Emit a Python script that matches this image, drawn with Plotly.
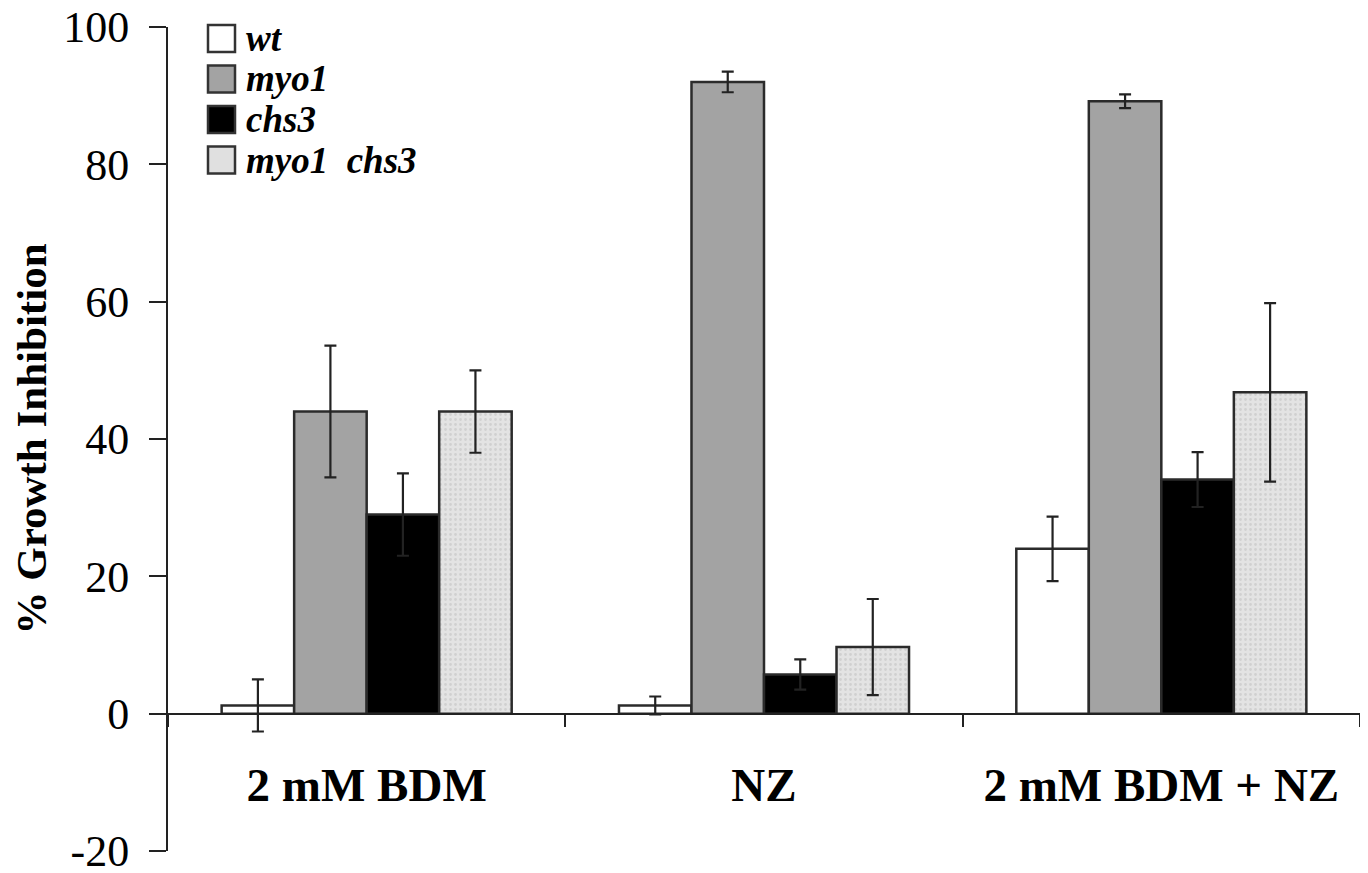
import plotly.graph_objects as go

categories = ["2 mM BDM", "NZ", "2 mM BDM + NZ"]
series_names = ["wt", "myo1", "chs3", "myo1  chs3"]
wt_vals = [1.2, 1.2, 24.0]
wt_err = [3.8, 1.3, 4.7]
myo1_vals = [44.0, 92.0, 89.2]
myo1_err = [9.6, 1.5, 1.0]
chs3_vals = [29.0, 5.7, 34.1]
chs3_err = [6.0, 2.2, 4.0]
dbl_vals = [44.0, 9.7, 46.8]
dbl_err = [6.0, 7.0, 13.0]
y_ticks = [-20, 0, 20, 40, 60, 80, 100]

SERIF = "Liberation Serif, Times New Roman, serif"
EDGE = "#2b2b2b"

values = [wt_vals, myo1_vals, chs3_vals, dbl_vals]
errors = [wt_err, myo1_err, chs3_err, dbl_err]
fills = ["#ffffff", "#a3a3a3", "#000000", "#e0e0e0"]

# figure size and plot area (page body adds an 8px offset)
W, H = 1368, 873
L, R, T, B = 160, 16, 19, 30
PW, PH = W - L - R, H - T - B

fig = go.Figure()
for i, name in enumerate(series_names):
    marker = dict(color=fills[i], line=dict(color=EDGE, width=2.5))
    if i == 3:
        marker["pattern"] = dict(shape=".", bgcolor="#e3e3e3", fgcolor="#bdbdbd",
                                 size=5, solidity=0.25)
    fig.add_trace(go.Bar(
        x=categories, y=values[i], name=name, marker=marker,
        error_y=dict(type="data", array=errors[i], color="#222222",
                     thickness=2.2, width=6),
        showlegend=False,
    ))

# manual legend (large swatches, tight rows like the reference)
row_y = [30.5, 71, 111.5, 152]
sw = 27
sw_x = 200
txt_x = 237
for i, name in enumerate(series_names):
    cy = row_y[i]
    fig.add_shape(type="rect", xref="paper", yref="paper",
                  x0=(sw_x - L) / PW, x1=(sw_x + sw - L) / PW,
                  y0=(H - B - (cy + sw / 2)) / PH, y1=(H - B - (cy - sw / 2)) / PH,
                  fillcolor=fills[i], line=dict(color="#333333", width=2.5))
    fig.add_annotation(xref="paper", yref="paper",
                       x=(txt_x - L) / PW, y=(H - B - cy) / PH,
                       xanchor="left", yanchor="middle", showarrow=False,
                       borderpad=0,
                       text="<i><b>%s</b></i>" % name.replace(" ", "&nbsp;"),
                       font=dict(family=SERIF, size=37, color="black"))

fig.update_layout(
    width=W, height=H,
    margin=dict(l=L, r=R, t=T, b=B, autoexpand=False),
    paper_bgcolor="white", plot_bgcolor="white",
    barmode="group", bargap=0.27, bargroupgap=0,
    showlegend=False,
    font=dict(family=SERIF, color="black"),
)

fig.update_yaxes(
    range=[-20, 100], tickvals=y_ticks, ticktext=[str(v) for v in y_ticks],
    showgrid=False, zeroline=False,
    showline=True, linecolor="#222222", linewidth=2,
    ticks="outside", ticklen=17, tickwidth=2, tickcolor="#222222",
    tickfont=dict(family=SERIF, size=44, color="black"),
    ticklabelstandoff=11, ticklabeloverflow="allow",
    title=dict(text="<b>% Growth Inhibition</b>",
               font=dict(family=SERIF, size=43, color="black"), standoff=8),
)

fig.update_xaxes(
    anchor="free", position=1/6,
    showgrid=False, zeroline=False,
    showline=True, linecolor="#222222", linewidth=2,
    ticks="outside", tickson="boundaries", ticklen=12, tickwidth=2,
    tickcolor="#222222",
    tickfont=dict(family=SERIF, size=47, color="black", weight="bold"),
    ticklabelstandoff=30,
)

fig.write_html("out.html")
